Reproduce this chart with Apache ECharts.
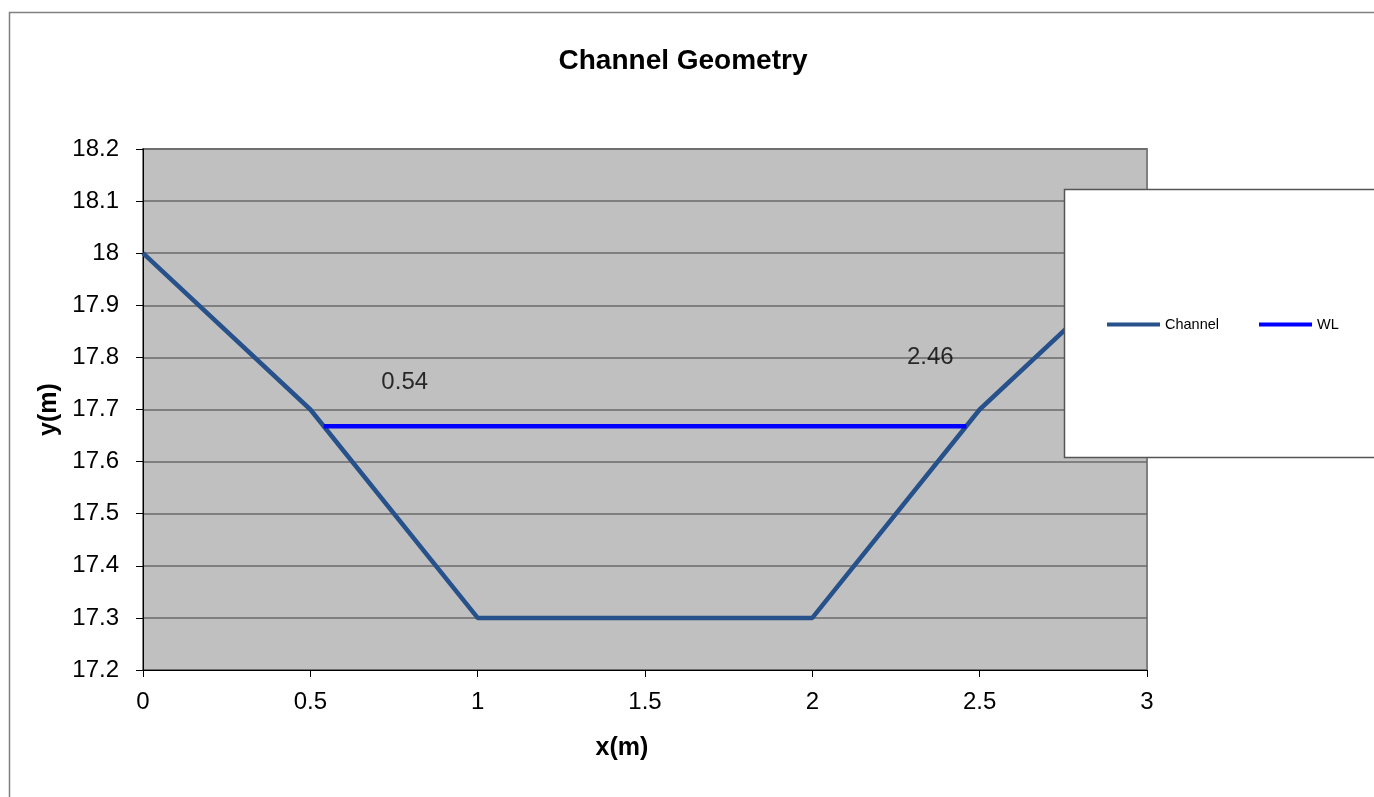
<!DOCTYPE html>
<html><head><meta charset="utf-8">
<script src="https://cdn.jsdelivr.net/npm/echarts@6/dist/echarts.min.js"></script>
<style>html,body{margin:0;padding:0;background:#fff}#c{width:1374px;height:797px}</style>
</head><body><div id="c"></div>
<script>
const channelX = [0, 0.5, 1, 2, 2.5, 3];
const channelY = [18.0, 17.7, 17.3, 17.3, 17.7, 18.0];
const wlX = [0.54, 2.46];
const wlY = [17.668, 17.668];
const wlLabels = ['0.54', '2.46'];
const xTicks = [0, 0.5, 1, 1.5, 2, 2.5, 3];
const yTicks = [17.2, 17.3, 17.4, 17.5, 17.6, 17.7, 17.8, 17.9, 18.0, 18.1, 18.2];

const labelOffsets = [[81, -44], [-36, -69]];
const font = 'Liberation Sans, Arial, sans-serif';
const chColor = '#27518a';

const chart = echarts.init(document.getElementById('c'));
chart.setOption({
  animation: false,
  backgroundColor: '#fff',
  title: {
    text: 'Channel Geometry', left: 678, top: 42, textAlign: 'center',
    textStyle: {fontFamily: font, fontSize: 28, fontWeight: 'bold', color: '#000'}
  },
  graphic: [
    {type: 'rect', shape: {x: 9.5, y: 12.5, width: 1400, height: 800},
     style: {fill: 'none', stroke: '#808080', lineWidth: 1.5}, z: 100},
    {type: 'rect', shape: {x: 1064.5, y: 189.5, width: 400, height: 268},
     style: {fill: '#fff', stroke: '#555', lineWidth: 1.5}, z: 40}
  ],
  legend: {
    orient: 'horizontal', left: 1102, top: 312,
    itemWidth: 53, itemHeight: 20, itemGap: 40,
    textStyle: {fontFamily: font, fontSize: 14.5, color: '#000'},
    data: [
      {name: 'Channel', icon: 'path://M0,8 L53,8 L53,12 L0,12 Z', itemStyle: {color: chColor}},
      {name: 'WL', icon: 'path://M0,8 L53,8 L53,12 L0,12 Z', itemStyle: {color: '#0000ff'}}
    ],
    z: 50
  },
  grid: {
    left: 143, top: 149, right: 227, bottom: 127,
    show: true, backgroundColor: '#c0c0c0', borderColor: '#808080', borderWidth: 2
  },
  xAxis: {
    type: 'value', min: 0, max: 3, interval: 0.5,
    name: 'x(m)', nameLocation: 'middle', nameGap: 66,
    nameTextStyle: {fontFamily: font, fontSize: 25, fontWeight: 'bold', color: '#000', padding: [0, 46, 0, 0]},
    axisLine: {show: true, lineStyle: {color: '#000', width: 1}},
    axisTick: {show: true, length: 7, lineStyle: {color: '#000'}},
    axisLabel: {margin: 20, fontFamily: font, fontSize: 24, color: '#000',
      formatter: v => xTicks.includes(v) ? String(v) : ''},
    splitLine: {show: false}
  },
  yAxis: {
    type: 'value', min: 17.2, max: 18.2, interval: 0.1,
    name: 'y(m)', nameLocation: 'middle', nameGap: 80, nameRotate: 90,
    nameTextStyle: {fontFamily: font, fontSize: 25, fontWeight: 'bold', color: '#000'},
    axisLine: {show: true, lineStyle: {color: '#000', width: 1}},
    axisTick: {show: true, length: 7, lineStyle: {color: '#000'}},
    axisLabel: {margin: 24, fontFamily: font, fontSize: 24, color: '#000',
      formatter: v => { const t = yTicks.find(k => Math.abs(k - v) < 1e-6); return t === undefined ? '' : (Number.isInteger(t) ? String(t) : t.toFixed(1)); }},
    splitLine: {show: true, lineStyle: {color: '#6a6a6a', width: 1.5}}
  },
  series: [
    {
      name: 'Channel', type: 'line', symbol: 'none',
      data: channelX.map((x, i) => [x, channelY[i]]),
      lineStyle: {color: chColor, width: 4.5}, itemStyle: {color: chColor}, z: 3
    },
    {
      name: 'WL', type: 'line', symbol: 'none',
      data: wlX.map((x, i) => [x, wlY[i]]),
      lineStyle: {color: '#0000ff', width: 4.5}, itemStyle: {color: '#0000ff'}, z: 4
    },
    {
      name: 'WL labels', type: 'scatter', symbolSize: 1,
      itemStyle: {color: 'rgba(0,0,0,0)'}, silent: true,
      data: wlX.map((x, i) => ({
        value: [x, wlY[i]],
        label: {show: true, formatter: wlLabels[i], offset: labelOffsets[i], position: 'inside',
          fontFamily: font, fontSize: 24, color: '#000'}
      })), z: 5
    }
  ]
});
</script></body></html>
